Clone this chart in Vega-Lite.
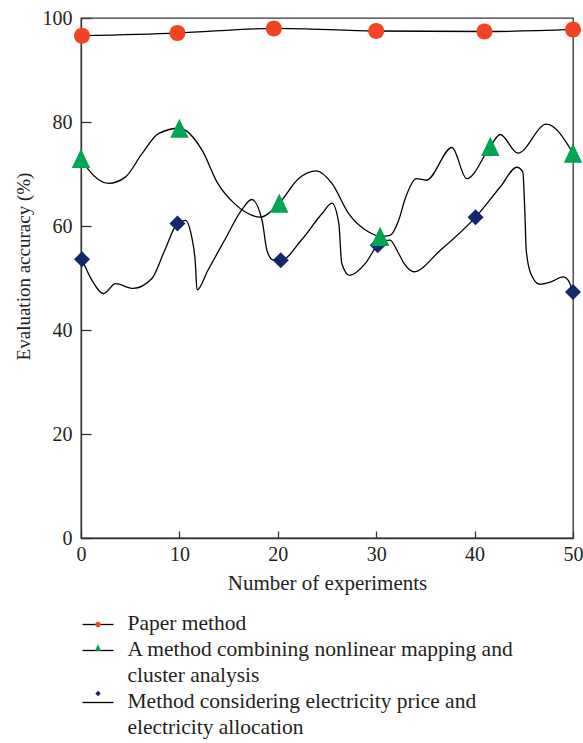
{
  "$schema": "https://vega.github.io/schema/vega-lite/v6.json",
  "width": 492,
  "height": 520,
  "autosize": {"type": "none"},
  "padding": {"left": 81, "top": 18, "right": 10, "bottom": 205},
  "background": "white",
  "config": {
    "view": {"stroke": "#333333", "strokeWidth": 1.3},
    "font": "Liberation Serif",
    "axis": {
      "labelFont": "Liberation Serif",
      "labelFontSize": 20,
      "labelColor": "#231f20",
      "titleFont": "Liberation Serif",
      "titleFontSize": 21,
      "titleFontWeight": "normal",
      "titleColor": "#231f20",
      "domainColor": "#333333",
      "domainWidth": 1.3,
      "tickColor": "#333333",
      "tickWidth": 1.3,
      "grid": false,
      "labelFlush": false,
      "labelOverlap": false
    }
  },
  "datasets": {
    "curves": [
      {"series": "Paper method", "x": 0.1, "y": 96.6},
      {"series": "Paper method", "x": 9.8, "y": 97.1},
      {"series": "Paper method", "x": 19.6, "y": 98.0},
      {"series": "Paper method", "x": 30.0, "y": 97.5},
      {"series": "Paper method", "x": 41.0, "y": 97.4},
      {"series": "Paper method", "x": 50.0, "y": 97.8},

      {"series": "A method combining nonlinear mapping and cluster analysis", "x": 0.0, "y": 73.0},
      {"series": "A method combining nonlinear mapping and cluster analysis", "x": 0.7, "y": 71.0},
      {"series": "A method combining nonlinear mapping and cluster analysis", "x": 2.8, "y": 68.2},
      {"series": "A method combining nonlinear mapping and cluster analysis", "x": 4.5, "y": 69.4},
      {"series": "A method combining nonlinear mapping and cluster analysis", "x": 6.2, "y": 73.9},
      {"series": "A method combining nonlinear mapping and cluster analysis", "x": 7.9, "y": 77.8},
      {"series": "A method combining nonlinear mapping and cluster analysis", "x": 10.0, "y": 78.8},
      {"series": "A method combining nonlinear mapping and cluster analysis", "x": 12.3, "y": 74.6},
      {"series": "A method combining nonlinear mapping and cluster analysis", "x": 13.9, "y": 68.2},
      {"series": "A method combining nonlinear mapping and cluster analysis", "x": 15.6, "y": 64.3},
      {"series": "A method combining nonlinear mapping and cluster analysis", "x": 16.7, "y": 62.7},
      {"series": "A method combining nonlinear mapping and cluster analysis", "x": 18.2, "y": 61.7},
      {"series": "A method combining nonlinear mapping and cluster analysis", "x": 20.15, "y": 64.4},
      {"series": "A method combining nonlinear mapping and cluster analysis", "x": 22.1, "y": 69.1},
      {"series": "A method combining nonlinear mapping and cluster analysis", "x": 23.9, "y": 70.6},
      {"series": "A method combining nonlinear mapping and cluster analysis", "x": 25.5, "y": 68.2},
      {"series": "A method combining nonlinear mapping and cluster analysis", "x": 27.2, "y": 62.4},
      {"series": "A method combining nonlinear mapping and cluster analysis", "x": 29.2, "y": 58.9},
      {"series": "A method combining nonlinear mapping and cluster analysis", "x": 30.4, "y": 58.0},
      {"series": "A method combining nonlinear mapping and cluster analysis", "x": 31.4, "y": 58.2},
      {"series": "A method combining nonlinear mapping and cluster analysis", "x": 32.3, "y": 61.2},
      {"series": "A method combining nonlinear mapping and cluster analysis", "x": 32.9, "y": 65.0},
      {"series": "A method combining nonlinear mapping and cluster analysis", "x": 34.1, "y": 69.1},
      {"series": "A method combining nonlinear mapping and cluster analysis", "x": 35.1, "y": 68.8},
      {"series": "A method combining nonlinear mapping and cluster analysis", "x": 37.7, "y": 75.1},
      {"series": "A method combining nonlinear mapping and cluster analysis", "x": 39.2, "y": 69.1},
      {"series": "A method combining nonlinear mapping and cluster analysis", "x": 41.6, "y": 75.3},
      {"series": "A method combining nonlinear mapping and cluster analysis", "x": 42.6, "y": 77.6},
      {"series": "A method combining nonlinear mapping and cluster analysis", "x": 44.4, "y": 74.0},
      {"series": "A method combining nonlinear mapping and cluster analysis", "x": 47.3, "y": 79.6},
      {"series": "A method combining nonlinear mapping and cluster analysis", "x": 50.0, "y": 74.0},

      {"series": "Method considering electricity price and electricity allocation", "x": 0.1, "y": 53.6},
      {"series": "Method considering electricity price and electricity allocation", "x": 1.1, "y": 49.6},
      {"series": "Method considering electricity price and electricity allocation", "x": 2.3, "y": 47.0},
      {"series": "Method considering electricity price and electricity allocation", "x": 3.5, "y": 48.9},
      {"series": "Method considering electricity price and electricity allocation", "x": 5.3, "y": 48.0},
      {"series": "Method considering electricity price and electricity allocation", "x": 7.2, "y": 49.9},
      {"series": "Method considering electricity price and electricity allocation", "x": 8.5, "y": 55.3},
      {"series": "Method considering electricity price and electricity allocation", "x": 9.8, "y": 60.5},
      {"series": "Method considering electricity price and electricity allocation", "x": 10.6, "y": 61.1},
      {"series": "Method considering electricity price and electricity allocation", "x": 11.25, "y": 57.9},
      {"series": "Method considering electricity price and electricity allocation", "x": 11.6, "y": 53.4},
      {"series": "Method considering electricity price and electricity allocation", "x": 11.8, "y": 47.7},
      {"series": "Method considering electricity price and electricity allocation", "x": 12.9, "y": 51.5},
      {"series": "Method considering electricity price and electricity allocation", "x": 14.6, "y": 57.3},
      {"series": "Method considering electricity price and electricity allocation", "x": 16.3, "y": 63.0},
      {"series": "Method considering electricity price and electricity allocation", "x": 17.35, "y": 65.1},
      {"series": "Method considering electricity price and electricity allocation", "x": 18.4, "y": 61.1},
      {"series": "Method considering electricity price and electricity allocation", "x": 18.9, "y": 55.3},
      {"series": "Method considering electricity price and electricity allocation", "x": 19.5, "y": 53.5},
      {"series": "Method considering electricity price and electricity allocation", "x": 20.3, "y": 53.4},
      {"series": "Method considering electricity price and electricity allocation", "x": 22.4, "y": 57.3},
      {"series": "Method considering electricity price and electricity allocation", "x": 24.5, "y": 62.4},
      {"series": "Method considering electricity price and electricity allocation", "x": 25.5, "y": 64.4},
      {"series": "Method considering electricity price and electricity allocation", "x": 26.2, "y": 60.5},
      {"series": "Method considering electricity price and electricity allocation", "x": 26.5, "y": 52.8},
      {"series": "Method considering electricity price and electricity allocation", "x": 27.3, "y": 50.5},
      {"series": "Method considering electricity price and electricity allocation", "x": 28.9, "y": 52.8},
      {"series": "Method considering electricity price and electricity allocation", "x": 30.15, "y": 56.3},
      {"series": "Method considering electricity price and electricity allocation", "x": 31.4, "y": 57.3},
      {"series": "Method considering electricity price and electricity allocation", "x": 32.2, "y": 55.0},
      {"series": "Method considering electricity price and electricity allocation", "x": 32.9, "y": 52.6},
      {"series": "Method considering electricity price and electricity allocation", "x": 33.8, "y": 51.2},
      {"series": "Method considering electricity price and electricity allocation", "x": 36.5, "y": 55.3},
      {"series": "Method considering electricity price and electricity allocation", "x": 40.1, "y": 61.7},
      {"series": "Method considering electricity price and electricity allocation", "x": 42.6, "y": 67.5},
      {"series": "Method considering electricity price and electricity allocation", "x": 44.3, "y": 71.3},
      {"series": "Method considering electricity price and electricity allocation", "x": 44.9, "y": 70.4},
      {"series": "Method considering electricity price and electricity allocation", "x": 45.1, "y": 63.0},
      {"series": "Method considering electricity price and electricity allocation", "x": 45.25, "y": 55.3},
      {"series": "Method considering electricity price and electricity allocation", "x": 45.7, "y": 50.9},
      {"series": "Method considering electricity price and electricity allocation", "x": 46.6, "y": 48.8},
      {"series": "Method considering electricity price and electricity allocation", "x": 47.8, "y": 49.3},
      {"series": "Method considering electricity price and electricity allocation", "x": 49.0, "y": 50.2},
      {"series": "Method considering electricity price and electricity allocation", "x": 49.5, "y": 49.6},
      {"series": "Method considering electricity price and electricity allocation", "x": 50.0, "y": 47.3}
    ],
    "markers": [
      {"method": "Method considering electricity price and electricity allocation", "x": 0.1, "y": 53.6},
      {"method": "Method considering electricity price and electricity allocation", "x": 9.8, "y": 60.5},
      {"method": "Method considering electricity price and electricity allocation", "x": 20.3, "y": 53.4},
      {"method": "Method considering electricity price and electricity allocation", "x": 30.15, "y": 56.3},
      {"method": "Method considering electricity price and electricity allocation", "x": 40.1, "y": 61.7},
      {"method": "Method considering electricity price and electricity allocation", "x": 50.0, "y": 47.3},
      {"method": "A method combining nonlinear mapping and cluster analysis", "x": 0.0, "y": 73.0},
      {"method": "A method combining nonlinear mapping and cluster analysis", "x": 10.0, "y": 78.8},
      {"method": "A method combining nonlinear mapping and cluster analysis", "x": 20.15, "y": 64.4},
      {"method": "A method combining nonlinear mapping and cluster analysis", "x": 30.4, "y": 58.0},
      {"method": "A method combining nonlinear mapping and cluster analysis", "x": 41.6, "y": 75.3},
      {"method": "A method combining nonlinear mapping and cluster analysis", "x": 50.0, "y": 74.0},
      {"method": "Paper method", "x": 0.1, "y": 96.6},
      {"method": "Paper method", "x": 9.8, "y": 97.1},
      {"method": "Paper method", "x": 19.6, "y": 98.0},
      {"method": "Paper method", "x": 30.0, "y": 97.5},
      {"method": "Paper method", "x": 41.0, "y": 97.4},
      {"method": "Paper method", "x": 50.0, "y": 97.8}
    ]
  },
  "layer": [
    {
      "data": {"name": "curves"},
      "mark": {"type": "line", "interpolate": "monotone", "strokeWidth": 1.3},
      "encoding": {
        "x": {
          "field": "x", "type": "quantitative",
          "scale": {"domain": [0, 50], "nice": false, "zero": false},
          "axis": {"title": "Number of experiments", "values": [0, 10, 20, 30, 40, 50], "tickSize": -7, "labelPadding": 13, "titlePadding": 8}
        },
        "y": {
          "field": "y", "type": "quantitative",
          "scale": {"domain": [0, 100], "nice": false},
          "axis": {"title": "Evaluation accuracy (%)", "values": [0, 20, 40, 60, 80, 100], "tickSize": -10, "labelPadding": 19, "titlePadding": 9, "titleFontSize": 19, "titleY": 248}
        },
        "stroke": {
          "field": "series", "type": "nominal",
          "sort": ["Paper method", "A method combining nonlinear mapping and cluster analysis", "Method considering electricity price and electricity allocation"],
          "scale": {"range": ["#000000", "#000000", "#000000"]},
          "legend": {
            "orient": "none", "legendX": 0.5, "legendY": 590, "direction": "vertical", "title": null,
            "padding": 0, "offset": 0,
            "symbolType": "stroke", "symbolSize": 961, "symbolStrokeWidth": 1.3, "symbolStrokeColor": "#000000",
            "labelFont": "Liberation Serif", "labelFontSize": 21.5, "labelColor": "#231f20", "labelLimit": 600,
            "labelOffset": 13, "labelBaseline": "alphabetic", "rowPadding": 0,
            "labelExpr": "datum.label == 'A method combining nonlinear mapping and cluster analysis' ? ['A method combining nonlinear mapping and', 'cluster analysis'] : datum.label == 'Method considering electricity price and electricity allocation' ? ['Method considering electricity price and', 'electricity allocation'] : datum.label",
            "encode": {"labels": {"update": {"dy": {"value": 5}, "lineHeight": {"value": 26}}}}
          }
        }
      }
    },
    {
      "data": {"name": "markers"},
      "mark": {"type": "point", "filled": true, "size": 8464, "opacity": 1, "strokeWidth": 0},
      "encoding": {
        "x": {"field": "x", "type": "quantitative"},
        "y": {"field": "y", "type": "quantitative"},
        "fill": {
          "field": "method", "type": "nominal",
          "scale": {
            "domain": ["Paper method", "A method combining nonlinear mapping and cluster analysis", "Method considering electricity price and electricity allocation"],
            "range": ["#F04423", "#00A551", "#13286C"]
          },
          "legend": {
            "orient": "none", "legendX": 0.5, "legendY": 590, "direction": "vertical", "title": null,
            "padding": 0, "offset": 0,
            "symbolSize": 961, "symbolStrokeWidth": 1.3, "symbolStrokeColor": "transparent", "symbolOffset": 0,
            "labelFont": "Liberation Serif", "labelFontSize": 21.5, "labelColor": "transparent", "labelLimit": 600,
            "labelOffset": 13, "labelBaseline": "alphabetic", "rowPadding": 0,
            "labelExpr": "datum.label == 'A method combining nonlinear mapping and cluster analysis' ? [' ', ' '] : datum.label == 'Method considering electricity price and electricity allocation' ? [' ', ' '] : ' '",
            "encode": {"labels": {"update": {"dy": {"value": 5}, "lineHeight": {"value": 26}}}}
          }
        },
        "shape": {
          "field": "method", "type": "nominal",
          "scale": {
            "domain": ["Paper method", "A method combining nonlinear mapping and cluster analysis", "Method considering electricity price and electricity allocation"],
            "range": ["M0.174,0A0.174,0.174 0 1,1 -0.174,0A0.174,0.174 0 1,1 0.174,0Z", "M0,-0.209L0.2,0.209L-0.2,0.209Z", "M0,-0.174L0.174,0L0,0.174L-0.174,0Z"]
          },
          "legend": {
            "orient": "none", "legendX": 0.5, "legendY": 590, "direction": "vertical", "title": null,
            "padding": 0, "offset": 0,
            "symbolSize": 961, "symbolStrokeWidth": 1.3, "symbolStrokeColor": "transparent", "symbolOffset": 0,
            "labelFont": "Liberation Serif", "labelFontSize": 21.5, "labelColor": "transparent", "labelLimit": 600,
            "labelOffset": 13, "labelBaseline": "alphabetic", "rowPadding": 0,
            "labelExpr": "datum.label == 'A method combining nonlinear mapping and cluster analysis' ? [' ', ' '] : datum.label == 'Method considering electricity price and electricity allocation' ? [' ', ' '] : ' '",
            "encode": {"labels": {"update": {"dy": {"value": 5}, "lineHeight": {"value": 26}}}}
          }
        }
      }
    }
  ]
}
